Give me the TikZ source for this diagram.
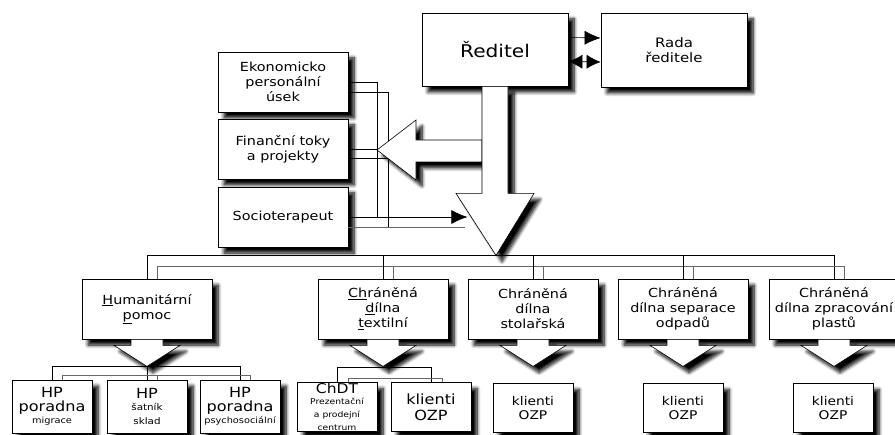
\documentclass[tikz,border=0pt]{standalone}
\usepackage{fontspec}
\setmainfont{DejaVu Sans}[FakeStretch=1.15]
\usetikzlibrary{arrows.meta,shadows.blur}

\tikzset{
  shade/.style={blur shadow={shadow xshift=6pt,shadow yshift=-6pt,shadow blur radius=3.5pt,shadow blur steps=8,shadow opacity=100}},
  box/.style={draw,fill=white,line width=0.8pt,align=center,inner sep=1pt,shade},
  leftbox/.style={box,minimum width=130pt,minimum height=60pt,font=\fontsize{12.5}{15}\selectfont},
  midbox/.style={box,minimum width=130pt,minimum height=60pt,font=\fontsize{12.5}{15}\selectfont},
  leafbox/.style={box,minimum width=80pt,minimum height=51pt,font=\fontsize{12}{14}\selectfont},
  bigarrow/.style={draw,fill=white,line width=0.6pt,shade},
  wire/.style={line width=0.6pt},
  wire2/.style={line width=0.6pt,draw=black!60},
  tip/.style={-{Latex[length=16pt,width=14pt]}}
}

\begin{document}
\begin{tikzpicture}[x=1pt,y=-1pt]
\useasboundingbox (0,0) rectangle (895,435);

% top
\node[box,minimum width=146pt,minimum height=73pt,font=\fontsize{17.5}{20}\selectfont] (dir) at (495,49.5) {Ředitel};
\node[box,minimum width=146pt,minimum height=74pt,font=\fontsize{13}{15}\selectfont] (rada) at (674,50) {Rada\\ředitele};
\draw[wire,tip] ([yshift=12pt]dir.east) -- ([yshift=12pt]rada.west);
\draw[wire,{Latex[length=14pt,width=14pt]}-{Latex[length=14pt,width=14pt]}] ([yshift=-12pt]dir.east) -- ([yshift=-12pt]rada.west);

% staff
\node[leftbox] (ekon) at (283,82) {Ekonomicko\\personální\\úsek};
\node[leftbox] (fin) at (283,149) {Finanční toky\\a projekty};
\node[leftbox] (socio) at (283,217) {Socioterapeut};

\coordinate (sa) at (377,217);
\coordinate (sb) at (388,227);
\draw[wire] (ekon.east) -| (sa);
\draw[wire] ([yshift=-10pt]ekon.east) -| (sb);
\draw[wire] (fin.east) -- (fin.east -| sa);
\draw[wire] ([yshift=-9pt]fin.east) -- ([yshift=-9pt]fin.east -| sb);
\draw[wire2] ([yshift=-10pt]socio.east) -- ++(117,0);
\draw[wire,tip] (socio.east) -- ++(119,0);

% big arrows
\draw[bigarrow] (482,140) -- (416,140) -- (416,120) -- (377,150) -- (416,180) -- (416,162) -- (482,162) -- cycle;
\draw[bigarrow] ([xshift=-13pt]dir.south) -- ++(0,107) -- ++(-26,0) -- ++(40,62) -- ++(38,-62) -- ++(-26,0) -- ([xshift=13pt]dir.south) -- cycle;

% workshops
\node[midbox] (hum) at (147,309) {\underline{H}umanitární\\\underline{p}omoc};
\node[midbox] (tex) at (383,309) {\underline{Ch}ráněná\\\underline{d}ílna\\\underline{t}extilní};
\node[midbox] (stol) at (533,309) {Chráněná\\dílna\\stolařská};
\node[midbox] (sep) at (683,309) {Chráněná\\dílna separace\\odpadů};
\node[midbox] (plast) at (834,309) {Chráněná\\dílna zpracování\\plastů};

\coordinate (busa) at (0,255);
\coordinate (busb) at (0,266);
\draw[wire] (hum.north) |- (plast.north |- busa) -- (plast.north);
\draw[wire2] ([xshift=10pt]hum.north) |- ([xshift=10pt]plast.north |- busb) -- ([xshift=10pt]plast.north);
\foreach \n in {tex,stol,sep}{
  \draw[wire] (\n.north) -- (\n.north |- busa);
  \draw[wire2] ([xshift=10pt]\n.north) -- ([xshift=10pt]\n.north |- busb);
}

\foreach \n in {hum,tex,stol,sep,plast}
  \draw[bigarrow] ([xshift=-16pt]\n.south) -- ++(0,6) -- ++(-17,0) -- ++(33,21) -- ++(33,-21) -- ++(-17,0) -- ([xshift=16pt]\n.south) -- cycle;

% leaves
\node[leafbox,minimum height=53pt] (hp1) at (52,406.5) {\fontsize{14}{15}\selectfont HP\\\fontsize{14}{15}\selectfont poradna\\[-2pt]\fontsize{8.5}{10}\selectfont migrace};
\node[leafbox,minimum height=53pt] (hp2) at (147,406.5) {\fontsize{14}{15}\selectfont HP\\[-2pt]\fontsize{9}{10}\selectfont šatník\\\fontsize{9}{11}\selectfont sklad};
\node[leafbox,minimum height=53pt] (hp3) at (240,406.5) {\fontsize{14}{15}\selectfont HP\\\fontsize{14}{15}\selectfont poradna\\[-2pt]\fontsize{8.5}{10}\selectfont psychosociální};
\node[leafbox,minimum height=49pt,inner sep=0pt] (chdt) at (337,407) {\fontsize{13.5}{14}\selectfont ChDT\\[-3pt]\fontsize{8}{9.5}\selectfont Prezentační\\[-1pt]\fontsize{8}{9.5}\selectfont a prodejní\\[-1pt]\fontsize{8}{9.5}\selectfont centrum};
\node[leafbox,minimum height=49pt,font=\fontsize{14}{16}\selectfont] (kl1) at (431,407) {klienti\\OZP};
\node[leafbox,minimum height=49pt] (kl2) at (533,408) {klienti\\OZP};
\node[leafbox,minimum height=49pt] (kl3) at (683,408) {klienti\\OZP};
\node[leafbox,minimum height=49pt] (kl4) at (833,408) {klienti\\OZP};

\coordinate (hba) at (0,366);
\coordinate (hbb) at (0,375);
\draw[wire] (hp1.north) |- (hp3.north |- hba) -- (hp3.north);
\draw[wire] (hp2.north) -- (hp2.north |- hba);
\draw[wire2] ([xshift=10pt]hp1.north) |- ([xshift=10pt]hp3.north |- hbb) -- ([xshift=10pt]hp3.north);
\draw[wire2] ([xshift=10pt]hp2.north) -- ([xshift=10pt]hp2.north |- hbb);

\coordinate (tba) at (0,367);
\coordinate (tbb) at (0,378);
\draw[wire] (chdt.north) |- (kl1.north |- tba) -- (kl1.north);
\draw[wire2] ([xshift=11pt]chdt.north) |- ([xshift=11pt]kl1.north |- tbb) -- ([xshift=11pt]kl1.north);
\end{tikzpicture}
\end{document}
